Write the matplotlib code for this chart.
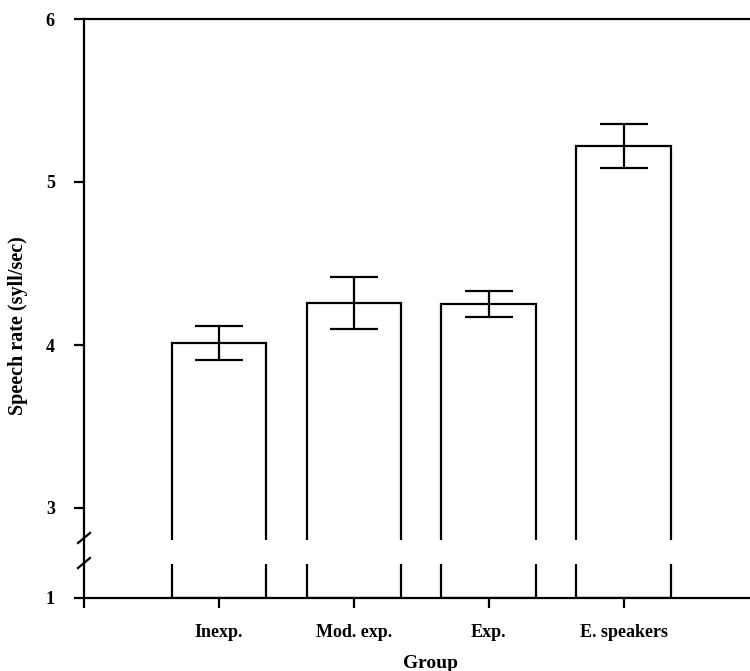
import numpy as np
import matplotlib
matplotlib.use("Agg")
import matplotlib.pyplot as plt

# mean speech rate per group with standard error
groups = ["Inexp.", "Mod. exp.", "Exp.", "E. speakers"]
rate = [4.01, 4.26, 4.25, 5.22]
err = [0.105, 0.16, 0.08, 0.133]

plt.rcParams["font.family"] = ["Liberation Serif", "DejaVu Serif"]
plt.rcParams["font.weight"] = "bold"

W, H = 750, 671
fig = plt.figure(figsize=(W / 100, H / 100), dpi=100)

def frac(x0, y0, x1, y1):
    return [x0 / W, 1 - y1 / H, (x1 - x0) / W, (y1 - y0) / H]

# upper panel 2.8..6, lower panel just above 1
ax = fig.add_axes(frac(84, 19, 776, 540))
axb = fig.add_axes(frac(84, 564, 776, 598))

x = np.arange(1, len(groups) + 1)
lw = 1.6
for a in (ax, axb):
    a.bar(x, np.array(rate) - 1, bottom=1, width=0.70, facecolor="white",
          edgecolor="black", linewidth=lw)
    a.set_xlim(0, 5.13)
    for s in a.spines.values():
        s.set_linewidth(lw)
    a.spines["right"].set_visible(False)
    a.tick_params(direction="out", length=7, width=lw, labelsize=13)

ax.errorbar(x, rate, yerr=err, fmt="none", ecolor="black", elinewidth=lw,
            capsize=17, capthick=lw)
ax.set_ylim(3 - 32 / 163, 6)
ax.set_yticks([3, 4, 5, 6])
ax.tick_params(axis="y", pad=14)
ax.spines["bottom"].set_visible(False)
ax.tick_params(axis="x", bottom=False, labelbottom=False)

axb.set_ylim(1, 1 + 34 / 163)
axb.set_yticks([1])
axb.tick_params(axis="y", pad=14)
axb.spines["top"].set_visible(False)
axb.set_xticks([0] + list(x))
axb.set_xticklabels([""] + groups)
axb.tick_params(axis="x", pad=12)
axb.set_xlabel("Group", fontsize=14, fontweight="bold", labelpad=10)

# continue the left spine through the break and mark it
gap = 24 / 521
ax.plot([0, 0], [0, -gap], transform=ax.transAxes, color="black",
        linewidth=lw, clip_on=False)
dx, dy = 6 / 692, 5 / 521
for yy in (2 / 521, -gap + 1 / 521):
    ax.plot([-dx, dx], [yy - dy, yy + dy], transform=ax.transAxes,
            color="black", linewidth=lw, clip_on=False)

fig.text(18 / W, 1 - 326 / H, "Speech rate (syll/sec)", rotation=90,
         ha="center", va="center", fontsize=14.5, fontweight="bold")

fig.savefig("out.png", dpi=100)
